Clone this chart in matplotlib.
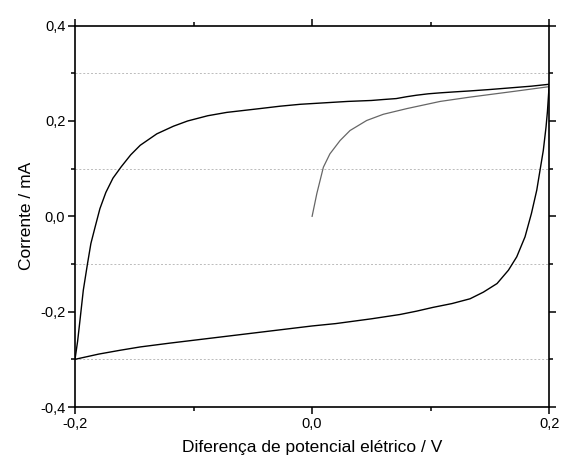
import matplotlib
matplotlib.use("Agg")
import matplotlib.pyplot as plt
from matplotlib.ticker import MultipleLocator, FuncFormatter

# Forward sweep (-0.2 V -> 0.2 V)
fwd_x = [-0.2, -0.1978, -0.1958, -0.193, -0.1895, -0.1866, -0.183, -0.179, -0.174,
         -0.168, -0.161, -0.153, -0.145, -0.131, -0.117, -0.105, -0.088, -0.072, -0.058,
         -0.044, -0.027, -0.010, 0.010, 0.030, 0.050, 0.060, 0.071, 0.080, 0.088,
         0.098, 0.108, 0.120, 0.133, 0.150, 0.170, 0.185, 0.2]
fwd_y = [-0.300, -0.262, -0.218, -0.155, -0.100, -0.057, -0.022, 0.016, 0.050,
         0.080, 0.104, 0.129, 0.149, 0.173, 0.189, 0.200, 0.211, 0.218, 0.222,
         0.226, 0.231, 0.235, 0.238, 0.241, 0.243, 0.245, 0.247, 0.251, 0.254,
         0.257, 0.259, 0.261, 0.263, 0.266, 0.270, 0.273, 0.277]
# Reverse sweep (0.2 V -> -0.2 V)
rev_x = [0.2, 0.1993, 0.1985, 0.1973, 0.195, 0.1922, 0.1895, 0.185, 0.1796,
         0.1726, 0.1656, 0.156, 0.1445, 0.1332, 0.118, 0.102, 0.088, 0.074,
         0.050, 0.020, 0.0, -0.030, -0.060, -0.090, -0.120, -0.145, -0.162,
         -0.180, -0.2]
rev_y = [0.277, 0.250, 0.220, 0.187, 0.138, 0.096, 0.055, 0.006, -0.043,
         -0.085, -0.113, -0.141, -0.159, -0.173, -0.183, -0.191, -0.199, -0.206,
         -0.215, -0.225, -0.230, -0.239, -0.248, -0.257, -0.266, -0.274, -0.281,
         -0.289, -0.300]
# Initial sweep starting at 0 V
ini_x = [0.0, 0.004, 0.0067, 0.0095, 0.015, 0.0236, 0.032, 0.046, 0.060,
         0.080, 0.108, 0.133, 0.170, 0.2]
ini_y = [0.0, 0.048, 0.075, 0.103, 0.131, 0.159, 0.180, 0.201, 0.214,
         0.226, 0.241, 0.250, 0.262, 0.272]

plt.rcParams['font.family'] = ['Liberation Sans', 'DejaVu Sans']

fig = plt.figure(figsize=(5.61, 4.66), dpi=100)
ax = fig.add_axes([0.1337, 0.1266, 0.979 - 0.1337, 0.945 - 0.1266])

ax.plot(ini_x, ini_y, color='#666666', lw=0.9, solid_joinstyle='round')
ax.plot(fwd_x + rev_x, fwd_y + rev_y, color='black', lw=1.0, solid_joinstyle='round')

ax.set_xlim(-0.2, 0.2)
ax.set_ylim(-0.4, 0.4)
ax.xaxis.set_major_locator(MultipleLocator(0.2))
ax.xaxis.set_minor_locator(MultipleLocator(0.1))
ax.yaxis.set_major_locator(MultipleLocator(0.2))
ax.yaxis.set_minor_locator(MultipleLocator(0.1))

fmt = FuncFormatter(lambda v, p: ("%.1f" % (0.0 if abs(v) < 1e-9 else v)).replace('.', ','))
ax.xaxis.set_major_formatter(fmt)
ax.yaxis.set_major_formatter(fmt)

ax.tick_params(which='both', direction='out', top=True, right=True, width=1.1)
ax.tick_params(which='major', length=5, labelsize=10.5, pad=2)
ax.tick_params(which='minor', length=3)

for s in ax.spines.values():
    s.set_linewidth(1.2)

for yv in [-0.3, -0.1, 0.1, 0.3]:
    ax.axhline(yv, color='#bbbbbb', lw=0.7, ls=(0, (2, 2)), zorder=0)

ax.set_xlabel('Diferença de potencial elétrico / V', fontsize=12.5, labelpad=7)
ax.set_ylabel('Corrente / mA', fontsize=12.5, labelpad=4)

fig.savefig('out.png', dpi=100)
